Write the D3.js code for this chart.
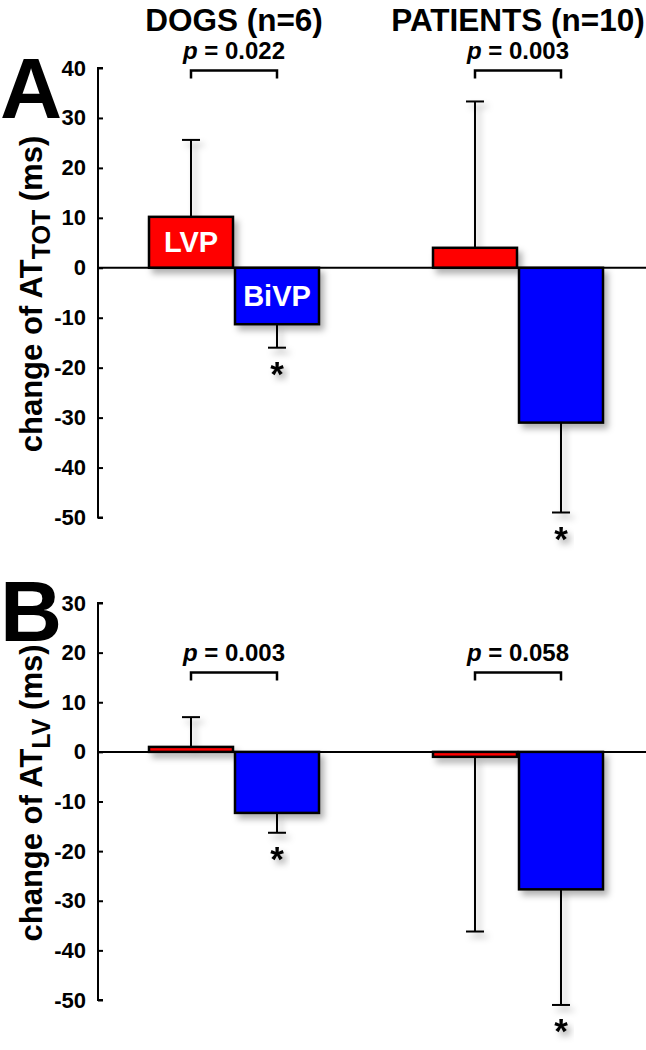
<!DOCTYPE html>
<html>
<head>
<meta charset="utf-8">
<script src="https://cdn.jsdelivr.net/npm/d3@7"></script>
<style>
  html, body { margin: 0; padding: 0; background: #fff; }
  svg { display: block; font-family: "Liberation Sans", Arial, sans-serif; }
</style>
</head>
<body>
<svg id="chart" width="646" height="1050"></svg>
<script>
// ---------------- DATA ----------------
const groups = ["DOGS (n=6)", "PATIENTS (n=10)"];
const series = ["LVP", "BiVP"];
const seriesColors = ["#ff0000", "#0000ff"];

// Panel A: change of AT_TOT (ms)
const meanA_LVP  = [10.2, 4.0];
const meanA_BiVP = [-11.3, -31.0];
const errA_LVP   = [15.4, 29.3];
const errA_BiVP  = [4.7, 18.0];
const pA = ["0.022", "0.003"];
const sigA = [true, true];          // asterisk under BiVP
const ticksA = [40, 30, 20, 10, 0, -10, -20, -30, -40, -50];

// Panel B: change of AT_LV (ms)
const meanB_LVP  = [1.0, -1.0];
const meanB_BiVP = [-12.3, -27.7];
const errB_LVP   = [6.0, 35.2];
const errB_BiVP  = [4.0, 23.3];
const pB = ["0.003", "0.058"];
const sigB = [true, true];
const ticksB = [30, 20, 10, 0, -10, -20, -30, -40, -50];

// ---------------- DRAW ----------------
const svg = d3.select("#chart");
const defs = svg.append("defs");
const f = defs.append("filter").attr("id", "shadow")
  .attr("x", "-30%").attr("y", "-30%").attr("width", "170%").attr("height", "170%");
f.append("feDropShadow").attr("dx", 4).attr("dy", 5).attr("stdDeviation", 3)
  .attr("flood-color", "#000").attr("flood-opacity", 0.3);

const xGroup = d3.scaleBand().domain(groups).range([92, 660]).padding(0);
const xSub = d3.scaleBand().domain(series).range([56, 228]).padding(0);
const color = d3.scaleOrdinal().domain(series).range(seriesColors);

function drawPanel(cfg) {
  const y = d3.scaleLinear().domain(cfg.domain).range(cfg.range);
  const g = svg.append("g");

  // panel letter
  g.append("text").attr("x", 0).attr("y", cfg.letterY)
    .attr("font-size", 86).attr("font-weight", "bold").text(cfg.letter);

  // y axis
  const axis = d3.axisRight(y).tickValues(cfg.ticks).tickSize(5).tickFormat(d => String(d));
  const ax = g.append("g").attr("transform", "translate(98,0)").call(axis);
  ax.select(".domain").attr("stroke", "#000").attr("stroke-width", 2)
    .attr("d", `M5,${y.range()[1]}H0V${y.range()[0]}H5`);
  ax.selectAll(".tick line").attr("stroke", "#000").attr("stroke-width", 2);
  ax.selectAll(".tick text").attr("x", -12).attr("text-anchor", "end")
    .attr("font-size", 22).attr("font-weight", "bold").attr("fill", "#000")
    .attr("font-family", "Liberation Sans, Arial, sans-serif");

  // y label (positioned from its measured box so it is centred on labelCenter)
  const ylab = g.append("text")
    .attr("font-size", 31).attr("font-weight", "bold");
  ylab.append("tspan").text("change of AT");
  ylab.append("tspan").attr("font-size", 25).attr("dy", 8).text(cfg.sub);
  ylab.append("tspan").attr("dy", -8).text(" (ms)");
  const bb = ylab.node().getBBox();
  const mid = bb.x + bb.width / 2;
  ylab.attr("transform", `translate(${cfg.labelX},${cfg.labelCenter}) rotate(-90) translate(${-mid},0)`);

  // rows
  const rows = [];
  groups.forEach((grp, i) => {
    series.forEach((s, j) => {
      rows.push({
        grp, s, i,
        mean: (j === 0 ? cfg.meanL : cfg.meanB)[i],
        err: (j === 0 ? cfg.errL : cfg.errB)[i]
      });
    });
  });
  const bx = d => xGroup(d.grp) + xSub(d.s);

  // error bars (shadowed)
  const eb = g.append("g").attr("filter", "url(#shadow)");
  rows.forEach(d => {
    const cx = bx(d) + xSub.bandwidth() / 2;
    const end = d.mean >= 0 ? d.mean + d.err : d.mean - d.err;
    eb.append("line").attr("x1", cx).attr("x2", cx).attr("y1", y(d.mean)).attr("y2", y(end))
      .attr("stroke", "#000").attr("stroke-width", 2);
    eb.append("line").attr("x1", cx - 9).attr("x2", cx + 9).attr("y1", y(end)).attr("y2", y(end))
      .attr("stroke", "#000").attr("stroke-width", 2);
  });

  // bars
  g.append("g").attr("filter", "url(#shadow)").selectAll("rect").data(rows).join("rect")
    .attr("x", d => bx(d) + 1)
    .attr("width", xSub.bandwidth() - 2)
    .attr("y", d => y(Math.max(0, d.mean)))
    .attr("height", d => Math.abs(y(d.mean) - y(0)))
    .attr("fill", d => color(d.s))
    .attr("stroke", "#000").attr("stroke-width", 2.5);

  // zero line
  g.append("line").attr("x1", 98).attr("x2", 646).attr("y1", y(0)).attr("y2", y(0))
    .attr("stroke", "#000").attr("stroke-width", 2);

  // bar labels (only panel A dogs)
  if (cfg.barLabels) {
    rows.filter(d => d.i === 0).forEach(d => {
      g.append("text").attr("x", bx(d) + xSub.bandwidth() / 2)
        .attr("y", (y(d.mean) + y(0)) / 2 + 10)
        .attr("text-anchor", "middle").attr("fill", "#fff")
        .attr("font-size", 29).attr("font-weight", "bold").text(d.s);
    });
  }

  // brackets + p values
  groups.forEach((grp, i) => {
    const xl = xGroup(grp) + xSub("LVP") + xSub.bandwidth() / 2;
    const xr = xGroup(grp) + xSub("BiVP") + xSub.bandwidth() / 2;
    const yb = y(cfg.bracket);
    g.append("path").attr("d", `M${xl},${yb + 8}V${yb}H${xr}V${yb + 8}`)
      .attr("fill", "none").attr("stroke", "#000").attr("stroke-width", 2.5);
    const t = g.append("text").attr("x", (xl + xr) / 2).attr("y", yb - 11)
      .attr("text-anchor", "middle").attr("font-size", 24).attr("font-weight", "bold");
    t.append("tspan").attr("font-style", "italic").text("p");
    t.append("tspan").text(" = " + cfg.p[i]);

    // asterisk
    if (cfg.sig[i]) {
      const d = rows.find(r => r.grp === grp && r.s === "BiVP");
      const end = d.mean - d.err;
      g.append("text").attr("x", xr).attr("y", y(end) + 38.5)
        .attr("text-anchor", "middle").attr("font-size", 35).attr("font-weight", "bold")
        .attr("filter", "url(#shadow)").text("*");
    }
  });
}

// titles
groups.forEach(grp => {
  svg.append("text").attr("x", xGroup(grp) + xGroup.bandwidth() / 2).attr("y", 31)
    .attr("text-anchor", "middle").attr("font-size", 31.5).attr("font-weight", "bold").text(grp);
});

drawPanel({
  letter: "A", letterY: 118, domain: [-50, 40], range: [517.5, 68], ticks: ticksA,
  meanL: meanA_LVP, meanB: meanA_BiVP, errL: errA_LVP, errB: errA_BiVP,
  p: pA, sig: sigA, bracket: 39.5, sub: "TOT", labelX: 42, labelCenter: 294, barLabels: true
});
drawPanel({
  letter: "B", letterY: 641, domain: [-50, 30], range: [1000, 603], ticks: ticksB,
  meanL: meanB_LVP, meanB: meanB_BiVP, errL: errB_LVP, errB: errB_BiVP,
  p: pB, sig: sigB, bracket: 16, sub: "LV", labelX: 42, labelCenter: 793, barLabels: false
});
</script>
</body>
</html>
